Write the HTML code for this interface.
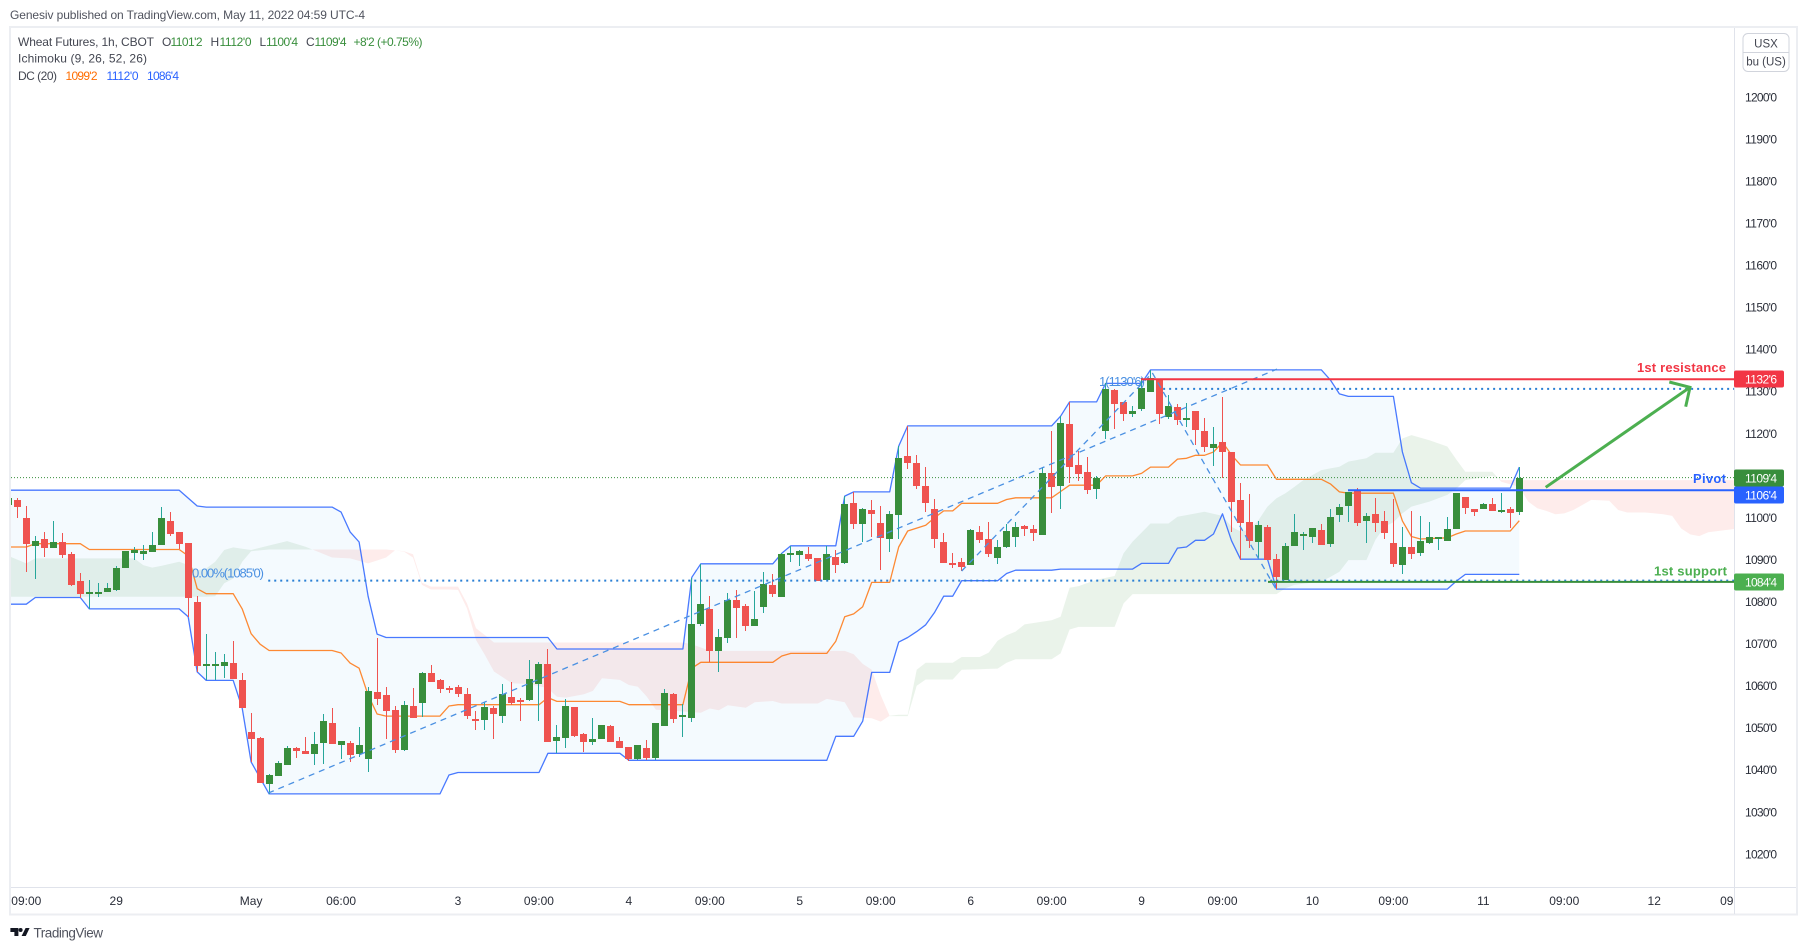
<!DOCTYPE html>
<html lang="en">
<head>
<meta charset="utf-8">
<title>Wheat Futures 1h chart</title>
<style>
html,body{margin:0;padding:0;background:#fff;width:1808px;height:950px;overflow:hidden}
svg{display:block;font-family:"Liberation Sans",Arial,sans-serif}
</style>
</head>
<body>
<svg id="chart" xmlns="http://www.w3.org/2000/svg" width="1808" height="950" viewBox="0 0 1808 950">
  <defs>
    <clipPath id="plot-clip"><rect x="11" y="28" width="1723" height="859"/></clipPath>
    <clipPath id="time-clip"><rect x="11" y="888" width="1723" height="26"/></clipPath>
  </defs>
  <rect x="0" y="0" width="1808" height="950" fill="#ffffff"/>
  <text x="10" y="19" font-size="12" fill="#50535e" textLength="355" lengthAdjust="spacing">Genesiv published on TradingView.com, May 11, 2022 04:59 UTC-4</text>

  <g id="plot" clip-path="url(#plot-clip)"></g>

  <g id="frame" fill="none">
    <rect x="10" y="27" width="1787" height="887.5" stroke="#eceef2" stroke-width="2"/>
    <line x1="1734.5" y1="28" x2="1734.5" y2="914" stroke="#e0e3eb"/>
    <line x1="11" y1="887.5" x2="1796" y2="887.5" stroke="#e0e3eb"/>
  </g>

  <g id="price-axis"></g>
  <g id="time-axis" clip-path="url(#time-clip)"></g>

  <g>
    <rect x="1743" y="33.5" width="46" height="38" rx="5" fill="#fff" stroke="#d1d4dc"/>
    <line x1="1743" y1="52.5" x2="1789" y2="52.5" stroke="#d1d4dc"/>
    <text x="1766" y="47.5" font-size="11.5" text-anchor="middle" fill="#434651">USX</text>
    <text x="1766" y="65.5" font-size="11.5" text-anchor="middle" fill="#434651">bu (US)</text>
  </g>

  <g font-size="12">
    <text x="18" y="46" fill="#434651" textLength="136" lengthAdjust="spacing">Wheat Futures, 1h, CBOT</text>
    <text x="162" y="46" fill="#434651">O</text>
    <text x="170.5" y="46" fill="#388e3c" textLength="32">1101'2</text>
    <text x="210.5" y="46" fill="#434651">H</text>
    <text x="219.5" y="46" fill="#388e3c" textLength="32">1112'0</text>
    <text x="259.5" y="46" fill="#434651">L</text>
    <text x="266" y="46" fill="#388e3c" textLength="32">1100'4</text>
    <text x="306" y="46" fill="#434651">C</text>
    <text x="314.5" y="46" fill="#388e3c" textLength="32">1109'4</text>
    <text x="353.5" y="46" fill="#388e3c" textLength="69">+8'2 (+0.75%)</text>
    <text x="18" y="62.5" fill="#434651" textLength="129" lengthAdjust="spacing">Ichimoku (9, 26, 52, 26)</text>
    <text x="18" y="80" fill="#434651" textLength="39">DC (20)</text>
    <text x="65.5" y="80" fill="#ff6d00" textLength="32">1099'2</text>
    <text x="106.5" y="80" fill="#2962ff" textLength="32">1112'0</text>
    <text x="147" y="80" fill="#2962ff" textLength="32">1086'4</text>
  </g>

  <g>
    <g fill="#131722">
      <path d="M10.4 928h8v8h-4v-4h-4z"/>
      <circle cx="20.6" cy="930" r="2"/>
      <path d="M25.6 928h4l-3.8 8h-4.2z"/>
    </g>
    <text x="33.5" y="937.5" font-size="13.5" fill="#50535e" textLength="69.5" lengthAdjust="spacing">TradingView</text>
  </g>
</svg>

<script>
// Candle data (bar -1 .. 167), prices in US cents per bushel
const firstBar = -1;
const candleOpen = [
1103.0,1104.2,1099.9,1093.2,1094.9,1092.8,1094.2,1091.4,1084.9,1082.1,
1082.1,1082.3,1082.8,1088.0,1091.6,1091.3,1091.8,1093.5,1099.2,1096.6,
1093.9,1079.9,1064.8,1064.9,1064.7,1065.4,1061.4,1049.0,1047.6,1036.6,
1038.5,1041.2,1045.2,1044.5,1043.8,1046.4,1051.2,1045.9,1046.4,1043.8,
1042.6,1058.5,1057.8,1054.2,1044.7,1055.2,1055.9,1063.0,1061.4,1059.5,
1059.7,1058.1,1052.1,1051.9,1054.7,1052.8,1057.3,1056.6,1056.6,1060.4,
1065.2,1046.9,1047.6,1055.0,1048.5,1046.6,1047.4,1050.4,1046.9,1045.5,
1042.6,1045.2,1042.8,1050.4,1058.1,1052.8,1052.4,1074.7,1078.3,1068.3,
1071.4,1080.4,1079.0,1074.2,1078.7,1084.0,1081.1,1091.1,1091.1,1091.3,
1090.4,1085.2,1090.6,1089.2,1103.5,1098.5,1101.8,1098.7,1094.9,1100.6,
1114.6,1113.0,1107.5,1102.0,1094.2,1089.2,1089.4,1088.7,1096.6,1094.9,
1090.4,1093.0,1095.4,1098.0,1097.3,1095.9,1110.6,1107.5,1122.2,1112.5,
1110.8,1106.8,1120.6,1130.3,1127.5,1124.6,1125.8,1129.9,1133.0,1123.9,
1126.3,1123.2,1125.3,1120.6,1116.5,1118.0,1115.6,1104.2,1098.9,1094.2,
1097.8,1090.1,1085.2,1093.2,1095.9,1095.4,1097.0,1093.7,1100.6,1102.8,
1106.3,1099.2,1100.8,1099.2,1094.0,1088.7,1093.0,1091.6,1093.9,1095.1,
1094.4,1097.3,1104.9,1102.0,1102.0,1103.2,1101.3,1102.0,1101.25];
const candleHigh = [
1105.0,1104.6,1102.7,1095.6,1096.6,1099.2,1096.3,1091.8,1086.8,1085.1,
1084.4,1084.4,1088.5,1092.0,1093.0,1093.5,1096.6,1102.5,1101.3,1096.6,
1093.9,1081.3,1072.3,1068.0,1067.6,1070.6,1063.0,1053.5,1047.8,1039.0,
1042.1,1045.8,1045.4,1047.9,1049.0,1053.3,1054.7,1046.9,1046.9,1050.2,
1059.7,1071.4,1059.7,1055.2,1056.4,1059.5,1063.3,1064.9,1061.6,1059.9,
1060.3,1059.5,1054.0,1056.2,1055.2,1060.4,1060.9,1057.1,1066.1,1065.7,
1068.7,1050.7,1056.9,1055.0,1048.8,1052.4,1050.7,1050.7,1047.8,1045.5,
1045.9,1047.1,1051.2,1059.2,1058.3,1055.7,1085.6,1089.0,1081.4,1073.5,
1082.1,1082.8,1079.5,1082.5,1087.1,1086.6,1091.6,1093.2,1092.3,1093.0,
1090.4,1093.2,1092.3,1105.1,1106.1,1102.3,1104.2,1102.8,1101.6,1117.0,
1121.8,1114.9,1112.0,1104.4,1096.3,1091.6,1090.4,1097.3,1098.0,1098.9,
1094.7,1098.5,1098.9,1098.2,1098.2,1112.0,1120.6,1124.1,1127.5,1115.8,
1114.4,1109.9,1131.9,1130.6,1127.5,1126.5,1133.2,1135.1,1133.0,1129.1,
1127.0,1127.2,1125.3,1123.7,1121.5,1128.7,1115.6,1108.2,1105.6,1099.2,
1098.2,1091.3,1094.0,1100.8,1096.6,1097.5,1098.5,1102.0,1103.2,1106.1,
1107.0,1101.1,1104.6,1101.6,1104.4,1097.8,1101.6,1100.4,1098.9,1095.4,
1100.1,1105.8,1104.9,1102.0,1103.5,1104.6,1105.8,1102.5,1112.0];
const candleLow = [
1102.0,1100.0,1087.1,1085.5,1090.7,1092.8,1090.5,1083.8,1080.9,1078.3,
1081.1,1082.3,1082.6,1088.0,1089.9,1089.9,1091.8,1093.5,1095.6,1092.5,
1076.4,1063.3,1061.3,1061.3,1061.8,1061.6,1054.7,1041.9,1036.9,1034.3,
1038.5,1041.2,1042.8,1043.8,1041.2,1041.4,1046.2,1042.6,1041.9,1043.1,
1039.5,1055.4,1047.3,1044.0,1044.5,1052.3,1052.6,1060.9,1058.3,1058.3,
1057.4,1052.1,1049.5,1049.5,1047.4,1051.2,1055.4,1051.6,1056.4,1051.6,
1046.6,1044.0,1045.2,1047.8,1044.3,1045.9,1047.4,1046.6,1045.2,1042.1,
1042.4,1042.4,1042.4,1050.4,1051.2,1047.8,1051.4,1074.2,1065.7,1063.3,
1070.2,1071.4,1073.0,1074.2,1077.3,1081.1,1081.1,1089.4,1088.5,1089.7,
1084.9,1085.2,1086.8,1089.0,1097.3,1094.2,1095.4,1087.5,1091.8,1094.9,
1111.6,1106.8,1101.3,1092.8,1089.2,1088.0,1087.3,1088.7,1094.0,1090.6,
1089.0,1092.8,1093.0,1095.6,1094.4,1095.9,1101.1,1102.1,1108.2,1108.7,
1105.6,1104.4,1118.7,1121.1,1123.0,1123.9,1125.3,1129.9,1122.3,1123.4,
1122.0,1121.5,1117.3,1115.6,1112.3,1109.4,1096.6,1089.9,1092.8,1090.4,
1089.9,1083.0,1085.2,1093.2,1092.3,1094.0,1093.5,1093.0,1098.9,1098.9,
1098.0,1094.0,1096.6,1094.9,1088.2,1086.6,1090.1,1090.9,1093.7,1092.3,
1094.4,1097.3,1100.8,1100.4,1102.0,1101.6,1101.2,1097.5,1100.5];
const candleClose = [
1104.6,1102.6,1093.6,1094.4,1092.8,1094.2,1091.2,1084.0,1081.8,1082.3,
1082.3,1083.2,1088.0,1092.0,1092.3,1092.0,1093.5,1099.9,1096.1,1093.7,
1080.9,1064.7,1065.2,1065.3,1065.6,1061.6,1054.7,1047.3,1036.9,1038.8,
1041.6,1045.2,1044.5,1043.8,1046.2,1051.6,1046.2,1046.9,1043.5,1045.9,
1058.8,1056.9,1054.0,1044.7,1055.4,1052.3,1063.0,1060.9,1059.2,1059.0,
1058.1,1052.8,1051.6,1055.0,1053.3,1058.1,1055.9,1056.2,1061.6,1065.2,
1046.6,1047.8,1055.2,1048.1,1046.6,1047.4,1050.7,1046.6,1045.2,1042.6,
1045.9,1042.8,1051.2,1058.3,1052.1,1053.1,1074.7,1079.5,1068.3,1071.6,
1080.4,1078.5,1074.2,1075.9,1084.2,1081.8,1091.3,1091.6,1092.1,1090.1,
1084.9,1091.3,1088.7,1103.2,1098.5,1102.0,1100.8,1095.1,1100.8,1114.2,
1113.0,1107.5,1103.5,1094.9,1089.2,1088.7,1088.2,1097.0,1094.7,1091.3,
1093.0,1096.8,1097.8,1097.3,1096.3,1110.6,1107.3,1122.5,1112.0,1110.4,
1106.6,1109.4,1130.6,1127.0,1124.6,1125.3,1130.8,1133.2,1124.6,1126.5,
1123.2,1123.7,1120.8,1116.8,1117.5,1115.6,1103.7,1098.7,1094.4,1098.2,
1089.9,1085.9,1093.2,1096.6,1096.1,1097.5,1093.5,1100.1,1102.5,1106.1,
1098.7,1100.4,1098.7,1096.3,1089.0,1093.0,1091.3,1094.4,1095.4,1095.4,
1097.3,1105.8,1102.3,1101.3,1103.2,1101.6,1101.8,1101.1,1109.5];

// Donchian channel knots (bar index and value)
const dcUpperBars = [-1,18,20,21,35,36,37,38,39,40,41,59,60,74,75,76,84,85,86,91,92,93,97,98,99,115,116,117,120,121,125,126,145,146,147,148,153,154,155,156,166,167];
const dcUpper = [1106.5,1106.5,1102.75,1102.5,1102.5,1101.3,1096.6,1094.2,1081.3,1072.3,1071.5,1071.5,1068.75,1068.75,1085.8,1089.0,1089.0,1091.5,1093.3,1093.3,1105.1,1106.1,1106.1,1117.0,1121.8,1121.8,1124.1,1127.5,1127.5,1131.9,1131.9,1135.1,1135.1,1132.7,1129.4,1128.8,1128.8,1115.6,1108.3,1107.0,1107.0,1112.0];
const dcLowerBars = [-1,1,2,7,8,18,19,20,21,24,25,26,28,47,48,49,58,59,67,68,90,91,93,94,95,97,98,99,100,101,102,103,104,105,109,110,111,115,116,124,125,128,129,130,131,132,133,134,135,136,139,140,159,160,161,167];
const dcLower = [1079.4,1079.4,1081.0,1081.0,1078.3,1078.3,1076.4,1063.3,1061.3,1061.3,1054.7,1041.9,1034.3,1034.3,1038.8,1039.4,1039.4,1043.95,1043.95,1042.3,1042.3,1048.0,1048.0,1051.6,1063.2,1063.2,1070.4,1071.5,1072.9,1074.5,1077.5,1081.3,1081.3,1085.0,1085.0,1086.7,1087.5,1087.5,1087.75,1087.75,1089.1,1089.1,1092.75,1093.0,1094.6,1094.6,1096.1,1100.9,1094.5,1090.1,1090.1,1083.0,1083.0,1084.9,1086.5,1086.5];
const dcMidBars = [-1,1,2,7,8,18,19,20,21,24,25,26,27,28,35,36,37,38,39,40,41,47,48,49,58,59,60,67,68,74,75,76,84,85,86,90,91,92,93,94,95,97,98,99,100,101,102,103,104,105,109,110,111,115,116,117,120,121,124,125,126,128,129,130,131,132,133,134,135,136,139,140,145,146,147,148,153,154,155,156,159,160,161,166,167];
const dcMid = [1093,1093,1093.8,1093.8,1092.4,1092.4,1090.9,1083.1,1081.9,1081.9,1078.3,1072.4,1069.9,1068.4,1068.4,1067.8,1065.4,1064.2,1057.8,1053.3,1052.8,1052.8,1055.2,1055.5,1055.5,1057.2,1056.3,1056.3,1055.5,1055.5,1064.2,1065.6,1065.6,1067.1,1067.7,1067.7,1070.6,1076.4,1077.1,1078.8,1084.6,1084.6,1093.0,1096.8,1097.5,1098.2,1100,1101.6,1101.6,1103.4,1103.4,1104.3,1104.7,1104.7,1106.2,1107.7,1107.7,1109.9,1109.9,1110.5,1112,1112,1113.9,1114.1,1114.8,1114.8,1115.6,1117.9,1114.9,1112.5,1112.5,1109.1,1109.1,1108,1106.1,1105.8,1105.8,1099.2,1095.5,1094.9,1095.2,1096.1,1096.8,1096.8,1099.25];

// Ichimoku cloud spans (bar index and value)
const spanABars = [-1,1,2,13,14,15,16,18,19,20,21,22,23,24,26,30,32,35,37,39,41,42,43,44,45,46,48,49,50,51,52,53,55,57,59,60,61,63,64,65,67,68,69,70,71,73,74,76,77,78,79,81,82,84,85,89,90,92,93,95,96,97,98,99,100,101,104,105,107,108,109,110,111,112,115,116,117,118,120,122,123,124,126,128,129,130,132,134,135,136,137,138,139,140,141,142,143,144,145,146,147,148,150,151,153,154,155,157,159,160,161,164,165,167,168,169,170,171,172,173,174,175,177,178,179,181,183,184,185,186,187,188,191];
const spanA = [1090.9,1089.1,1090.3,1090.3,1088.7,1088.1,1088.5,1089.5,1088.7,1087.5,1087.9,1089.5,1092.3,1092.9,1092.3,1094.4,1093.1,1090.5,1090.3,1089.1,1090.5,1092.2,1091.9,1090.5,1084,1082.9,1082.9,1082.8,1078.4,1070.9,1067.3,1063.4,1060.6,1060.4,1059.4,1057.4,1057.2,1058,1058.8,1061.8,1061.4,1060.2,1059.8,1057.4,1054.3,1054.1,1053.9,1053.6,1054.6,1054.2,1055.4,1054.8,1056.1,1056.4,1055.8,1055.8,1056.9,1056.1,1052.5,1052.3,1051.5,1052.9,1053.1,1053.1,1063.8,1065.5,1065.5,1066.85,1066.85,1067.9,1070.7,1072,1072.9,1074.6,1075.6,1076.4,1083.3,1083.7,1085.2,1086.1,1091.5,1094.3,1098.6,1098.6,1100.2,1100.6,1101.4,1100.4,1097.8,1096.7,1097.1,1099.4,1102.6,1104.6,1105.8,1107.3,1108.9,1110.1,1111.3,1111.7,1112.1,1113.3,1114.1,1115.4,1115.4,1118.8,1119.6,1118.4,1116.9,1113.8,1110.9,1110.9,1108.5,1107.3,1103.8,1102.2,1101.6,1100.8,1101,1101.8,1103,1104.2,1104,1101.8,1101.2,1101.2,1100.8,1100.4,1097.4,1096,1095.6,1096.5,1097.3];
const spanBBars = [-1,21,22,23,24,25,26,28,41,43,44,45,46,49,50,51,53,74,75,76,77,92,93,94,95,96,97,99,100,101,104,105,109,110,111,115,116,117,118,122,123,124,140,141,142,145,146,147,148,150,151,152,153,154,155,157,159,160,161,164,165,191];
const spanB = [1081.2,1081.2,1081.3,1084.4,1085.5,1089.5,1092,1092.4,1092.4,1092,1091.3,1084.5,1083.6,1083.6,1079.6,1073.7,1070.3,1070.3,1069.9,1069.1,1068.3,1068.3,1067.5,1065.2,1063.8,1057.8,1052.8,1052.8,1060,1061.5,1061.5,1063.8,1064.1,1065.5,1066.3,1066.3,1067.7,1073.4,1074,1074,1079.6,1081.8,1081.8,1083.2,1084,1084.8,1085.9,1087.1,1089.9,1089.9,1094.7,1097.8,1098.9,1101,1102.6,1103.8,1105.4,1106.9,1108.9,1109.9,1108.9,1108.9];

// Axis labels
const priceTicks = [1200,1190,1180,1170,1160,1150,1140,1130,1120,1110,1100,1090,1080,1070,1060,1050,1040,1030,1020];
const timeBars = [1,11,26,36,49,58,68,77,87,96,106,115,125,134,144,153,163,172,182,191];
const timeLabels = ["09:00","29","May","06:00","3","09:00","4","09:00","5","09:00","6","09:00","9","09:00","10","09:00","11","09:00","12","09:00"];

// Price-axis tags
const tagPrices = [1132.9,1109.5,1106.5,1084.7];
const tagTexts = ["1132'6","1109'4","1106'4","1084'4"];
const tagColors = ["#f23645","#388e3c","#2962ff","#4caf50"];
const tagNames = ["resistance-price-tag","last-price-tag","pivot-price-tag","support-price-tag"];

// Drawings
const lastPrice = 1109.5;
const resistancePrice = 1132.9;
const pivotPrice = 1106.5;
const supportPrice = 1084.7;
const fibZeroPrice = 1085.0;
const fibOnePrice = 1130.6;

const SVGNS = "http://www.w3.org/2000/svg";
const barX = b => 17.3 + 8.994 * b;
const priceY = p => 601.7 - (p - 1080) * 4.206;
const RIGHT = 1734;

function el(tag, attrs, parent) {
  const e = document.createElementNS(SVGNS, tag);
  for (const k in attrs) e.setAttribute(k, attrs[k]);
  parent.appendChild(e);
  return e;
}
function linePath(bars, vals) {
  return bars.map((b, i) => (i ? "L" : "M") + barX(b).toFixed(1) + " " + priceY(vals[i]).toFixed(1)).join("");
}
function interp(bars, vals, b) {
  if (b <= bars[0]) return vals[0];
  for (let i = 1; i < bars.length; i++) {
    if (b <= bars[i]) {
      const t = (b - bars[i - 1]) / (bars[i] - bars[i - 1]);
      return vals[i - 1] + t * (vals[i] - vals[i - 1]);
    }
  }
  return vals[vals.length - 1];
}

const plot = document.getElementById("plot");

// Ichimoku cloud
const cloud = el("g", {}, plot);


(function () {
  const allBars = Array.from(new Set(spanABars.concat(spanBBars))).sort((a, b) => a - b);
  const pts = [];
  allBars.forEach((b, i) => {
    const a = interp(spanABars, spanA, b), c = interp(spanBBars, spanB, b);
    if (i) {
      const last = pts[pts.length - 1];
      const d0 = last.a - last.c, d1 = a - c;
      if (d0 * d1 < 0) {
        const t = d0 / (d0 - d1);
        const xb = last.b + t * (b - last.b);
        const v = last.a + t * (a - last.a);
        pts.push({ b: xb, a: v, c: v, cross: true });
      }
    }
    pts.push({ b, a, c });
  });
  let run = [pts[0]];
  const flush = r => {
    if (r.length < 2) return;
    const mid = r[Math.floor(r.length / 2)];
    const up = mid.a >= mid.c;
    let d = "";
    r.forEach((p, i) => { d += (i ? "L" : "M") + barX(p.b).toFixed(1) + " " + priceY(p.a).toFixed(1); });
    r.slice().reverse().forEach(p => { d += "L" + barX(p.b).toFixed(1) + " " + priceY(p.c).toFixed(1); });
    const piece = el("path", { d: d + "Z", fill: up ? "rgba(56,142,60,0.105)" : "rgba(244,67,54,0.1)" }, cloud);
    
    
  };
  for (let i = 1; i < pts.length; i++) {
    run.push(pts[i]);
    if (pts[i].cross) { flush(run); run = [pts[i]]; }
  }
  flush(run);
})();

// Donchian channel fill
(function () {
  let d = linePath(dcUpperBars, dcUpper);
  for (let i = dcLowerBars.length - 1; i >= 0; i--) {
    d += "L" + barX(dcLowerBars[i]).toFixed(1) + " " + priceY(dcLower[i]).toFixed(1);
  }
  const fill = el("path", { d: d + "Z", fill: "rgba(33,150,243,0.05)" }, plot);
  
  
})();

// Last price line
const lastLine = el("line", { x1: 11, x2: RIGHT, y1: priceY(lastPrice), y2: priceY(lastPrice), stroke: "#388e3c", "stroke-width": 1, "stroke-dasharray": "1 2" }, plot);



// Donchian lines
const dcUpperLine = el("path", { d: linePath(dcUpperBars, dcUpper), fill: "none", stroke: "#2962ff", "stroke-width": 1.3, "stroke-opacity": 0.85, "stroke-linejoin": "round" }, plot);


const dcLowerLine = el("path", { d: linePath(dcLowerBars, dcLower), fill: "none", stroke: "#2962ff", "stroke-width": 1.3, "stroke-opacity": 0.85, "stroke-linejoin": "round" }, plot);


const dcMidLine = el("path", { d: linePath(dcMidBars, dcMid), fill: "none", stroke: "#ff6d00", "stroke-width": 1.3, "stroke-opacity": 0.8, "stroke-linejoin": "round" }, plot);



// Candles
const candles = el("g", {}, plot);


candleOpen.forEach((o, idx) => {
  const bar = idx + firstBar;
  const h = candleHigh[idx], l = candleLow[idx], c = candleClose[idx];
  const up = c >= o;
  const cx = Math.floor(barX(bar));
  const top = Math.round(priceY(Math.max(o, c)));
  const bottom = Math.round(priceY(Math.min(o, c)));
  const wickTop = Math.round(priceY(h));
  const wickBottom = Math.round(priceY(l));
  const g = el("g", { "shape-rendering": "crispEdges" }, candles);
  
  
  const wick = el("rect", { x: cx, y: wickTop, width: 1, height: Math.max(1, wickBottom - wickTop), fill: up ? "#26a69a" : "#ef5350" }, g);
  
  
  const body = el("rect", { x: cx - 3, y: top, width: 7, height: Math.max(2, bottom - top), fill: up ? "#388e3c" : "#ef5350" }, g);
  
  
});

// Fibonacci trend drawings
const fibColor = "#2a7fd4";
const trendFromBar = [27.9, 105, 126.2];
const trendFromPrice = [1034.5, 1087.3, 1134.4];
const trendToBar = [140.06, 126.2, 140];
const trendToPrice = [1135.3, 1134.4, 1082.8];
trendFromBar.forEach((b, i) => {
  const t = el("line", { x1: barX(b), y1: priceY(trendFromPrice[i]), x2: barX(trendToBar[i]), y2: priceY(trendToPrice[i]), stroke: "#4a90e2", "stroke-width": 1.3, "stroke-dasharray": "6 5" }, plot);
  
  
});
const fibZero = el("line", { x1: barX(27.9), x2: RIGHT, y1: priceY(fibZeroPrice), y2: priceY(fibZeroPrice), stroke: fibColor, "stroke-width": 2, "stroke-dasharray": "2 4" }, plot);


const fibOne = el("line", { x1: barX(127.4), x2: RIGHT, y1: priceY(fibOnePrice), y2: priceY(fibOnePrice), stroke: fibColor, "stroke-width": 2, "stroke-dasharray": "2 4" }, plot);


const fibZeroLabel = el("text", { x: 192, y: 577.5, "font-size": 13, fill: "#4a90e2", textLength: 72 }, plot);
fibZeroLabel.textContent = "0.00%(1085'0)";


const fibOneLabel = el("text", { x: 1099, y: 386, "font-size": 13, fill: "#4a90e2", textLength: 46 }, plot);
fibOneLabel.textContent = "1(1130'6)";



// Horizontal levels
const resistanceLine = el("line", { x1: 1141, x2: RIGHT, y1: priceY(resistancePrice), y2: priceY(resistancePrice), stroke: "#f23645", "stroke-width": 2 }, plot);


const pivotLine = el("line", { x1: 1348, x2: RIGHT, y1: priceY(pivotPrice), y2: priceY(pivotPrice), stroke: "#2962ff", "stroke-width": 2 }, plot);


const supportLine = el("line", { x1: 1268, x2: RIGHT, y1: priceY(supportPrice), y2: priceY(supportPrice), stroke: "#388e3c", "stroke-width": 2 }, plot);



const resistanceText = el("text", { x: 1726, y: 372, "text-anchor": "end", "font-size": 13, "font-weight": "bold", fill: "#f23645", textLength: 89 }, plot);
resistanceText.textContent = "1st resistance";


const pivotText = el("text", { x: 1726, y: 483, "text-anchor": "end", "font-size": 13, "font-weight": "bold", fill: "#2962ff", textLength: 33 }, plot);
pivotText.textContent = "Pivot";


const supportText = el("text", { x: 1727, y: 575.5, "text-anchor": "end", "font-size": 13, "font-weight": "bold", fill: "#4caf50", textLength: 73 }, plot);
supportText.textContent = "1st support";



// Forecast arrow
const arrow = el("g", { fill: "none", stroke: "#4caf50", "stroke-width": 3 }, plot);


const arrowShaft = el("line", { x1: 1545.7, y1: 487.3, x2: 1690, y2: 387.3 }, arrow);


const arrowHead = el("polyline", { points: "1669.3,382 1690,387.3 1685.7,406.7" }, arrow);



// Price axis
const priceAxis = document.getElementById("price-axis");
priceTicks.forEach(p => {
  const t = el("text", { x: 1745, y: priceY(p) + 4.3, "font-size": 12, fill: "#2a2e39", textLength: 32 }, priceAxis);
  t.textContent = p + "'0";
  
  
});
let previousTagCentre = -100;
tagPrices.forEach((p, i) => {
  const centre = Math.max(Math.round(priceY(p)), previousTagCentre + 17);
  previousTagCentre = centre;
  const r = el("rect", { x: 1734, y: centre - 8.5, width: 50, height: 17, rx: 2, fill: tagColors[i] }, priceAxis);
  
  
  const t = el("text", { x: 1745, y: centre + 4.3, "font-size": 12, fill: "#ffffff", textLength: 32 }, priceAxis);
  t.textContent = tagTexts[i];
  
  
});

// Time axis
const timeAxis = document.getElementById("time-axis");
timeBars.forEach((b, i) => {
  const t = el("text", { x: barX(b), y: 905, "font-size": 12, "text-anchor": "middle", fill: "#2a2e39" }, timeAxis);
  t.textContent = timeLabels[i];
  
  
});
</script>
</body>
</html>
